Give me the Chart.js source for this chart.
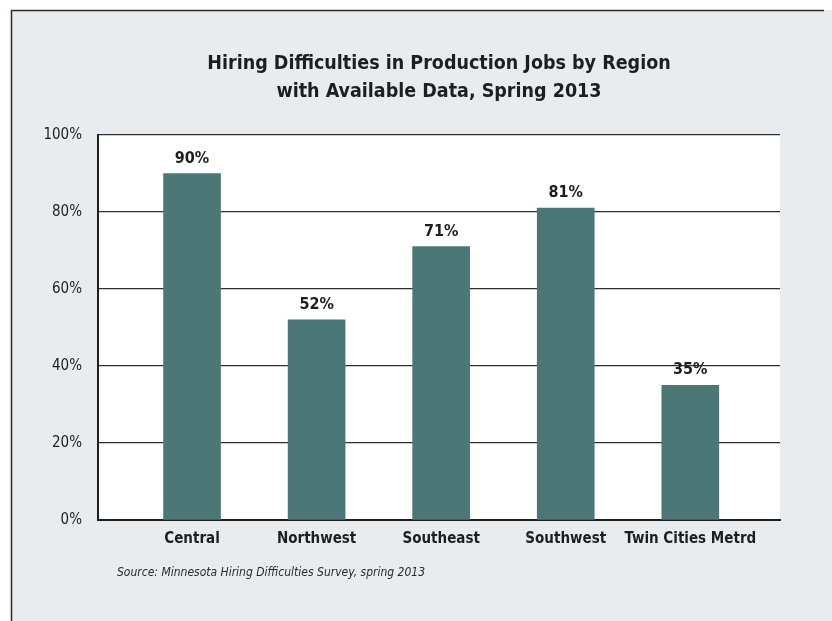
<!DOCTYPE html>
<html>
<head>
<meta charset="utf-8">
<title>Hiring Difficulties in Production Jobs by Region</title>
<script src="https://cdn.jsdelivr.net/npm/chart.js@4.4.1/dist/chart.umd.min.js"></script>
<style>
  html, body { margin: 0; padding: 0; background: #ffffff; }
  #wrap { width: 832px; height: 621px; position: relative; }
</style>
</head>
<body>
<div id="wrap"><canvas id="myChart" width="832" height="621"></canvas></div>
<script>
// regions and share of employers reporting difficulty (%)
const regions = ["Central", "Northwest", "Southeast", "Southwest", "Twin Cities Metrd"];
const hardToFill = [90, 52, 71, 81, 35];
const yTicks = [0, 20, 40, 60, 80, 100];

const titleLines = ["Hiring Difficulties in Production Jobs by Region", "with Available Data, Spring 2013"];
const sourceNote = "Source: Minnesota Hiring Difficulties Survey, spring 2013";

const narrow = "'DejaVu Sans Condensed', 'Liberation Sans Narrow', sans-serif";
const barColor = "#4b7876";
const inkColor = "#1e1e1e";

// grey panel with the frame lines, white plot area behind the bars
const panelBg = {
    id: "panelBg",
    beforeDraw(chart) {
        const ctx = chart.ctx;
        const a = chart.chartArea;
        ctx.save();
        ctx.fillStyle = "#ffffff";
        ctx.fillRect(0, 0, chart.width, chart.height);
        ctx.fillStyle = "#e9ecee";
        ctx.fillRect(11, 10, chart.width - 11, chart.height - 10);
        ctx.strokeStyle = "#2b2b2b";
        ctx.lineWidth = 1.5;
        ctx.beginPath();
        ctx.moveTo(11, 10.5);
        ctx.lineTo(824, 10.5);
        ctx.moveTo(11.5, 10);
        ctx.lineTo(11.5, chart.height);
        ctx.stroke();
        ctx.fillStyle = "#ffffff";
        ctx.fillRect(a.left, a.top, a.right - a.left, a.bottom - a.top);
        ctx.restore();
    }
};

// percentage above each bar, plus the source line under the axis
const barLabels = {
    id: "barLabels",
    afterDatasetsDraw(chart) {
        const ctx = chart.ctx;
        const bars = chart.getDatasetMeta(0).data;
        ctx.save();
        ctx.fillStyle = inkColor;
        ctx.font = "bold 16px " + narrow;
        ctx.textAlign = "center";
        ctx.textBaseline = "bottom";
        bars.forEach((bar, i) => {
            ctx.fillText(hardToFill[i] + "%", bar.x, bar.y - 7);
        });
        ctx.font = "italic 12px " + narrow;
        ctx.textAlign = "left";
        ctx.textBaseline = "middle";
        ctx.fillStyle = "#2a2a2a";
        ctx.fillText(sourceNote, 117, 573);
        ctx.restore();
    }
};

const data = {
    datasets: [{
        data: hardToFill.map((v, i) => ({ x: i, y: v })),
        backgroundColor: barColor,
        borderWidth: 0,
        barThickness: 57
    }]
};

const config = {
    type: "bar",
    data: data,
    options: {
        responsive: false,
        animation: false,
        layout: { padding: { left: 0, right: 52, top: 0, bottom: 0 } },
        plugins: {
            legend: { display: false },
            tooltip: { enabled: false },
            title: {
                display: true,
                fullSize: false,
                text: titleLines,
                color: inkColor,
                font: { family: narrow, size: 19.5, weight: "bold", lineHeight: 1.436 },
                padding: { top: 50, bottom: 29 }
            }
        },
        scales: {
            x: {
                type: "linear",
                offset: false,
                min: -0.755,
                max: 4.72,
                afterBuildTicks(scale) {
                    scale.ticks = regions.map((_, i) => ({ value: i }));
                },
                afterFit(scale) {
                    scale.height = 101;
                },
                grid: { display: false, offset: false },
                border: { display: true, color: inkColor, width: 2 },
                ticks: {
                    color: inkColor,
                    font: { family: narrow, size: 15, weight: "bold" },
                    padding: 2,
                    maxRotation: 0,
                    autoSkip: false,
                    callback: (v) => regions[v]
                }
            },
            y: {
                min: 0,
                max: 100,
                afterBuildTicks(scale) {
                    scale.ticks = yTicks.map(v => ({ value: v }));
                },
                afterFit(scale) {
                    scale.width = 98;
                },
                grid: { color: "#2e2e2e", lineWidth: 1.3, drawTicks: false },
                border: { display: true, color: inkColor, width: 2 },
                ticks: {
                    color: inkColor,
                    font: { family: narrow, size: 15 },
                    padding: 16,
                    callback: (v) => v + "%"
                }
            }
        }
    },
    plugins: [panelBg, barLabels]
};

const ctx = document.getElementById("myChart").getContext("2d");
const myChart = new Chart(ctx, config);
</script>
</body>
</html>
